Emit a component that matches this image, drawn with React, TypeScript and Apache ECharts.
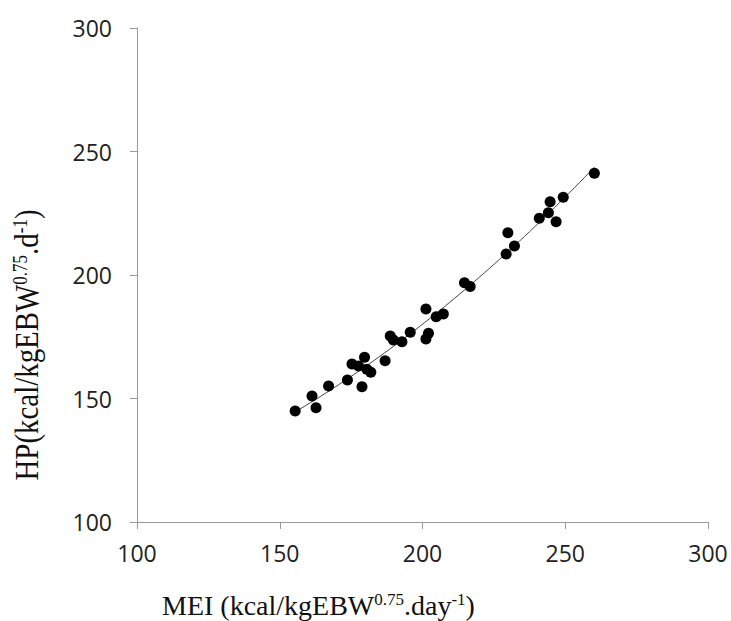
import React, { useEffect, useRef } from "react";
import * as echarts from "echarts";

// MEI (x) values
const meiValues = [
  155.4, 161.3, 162.7, 167.1, 173.7, 178.8, 175.3, 177.6, 179.7, 180.5, 181.9,
  186.9, 188.7, 189.8, 192.8, 195.7, 201.2, 201.2, 202.1, 204.8, 207.3, 214.7,
  216.7, 229.3, 229.9, 232.2, 240.9, 244.1, 244.7, 246.8, 249.3, 260.2,
];
// HP (y) values
const hpValues = [
  144.9, 151.0, 146.3, 155.1, 157.5, 154.8, 164.0, 163.2, 166.7, 161.8, 160.6,
  165.3, 175.3, 173.7, 173.0, 176.8, 186.2, 174.1, 176.4, 183.1, 184.2, 196.9,
  195.3, 208.5, 217.1, 211.7, 223.0, 225.2, 229.7, 221.6, 231.5, 241.2,
];

const axisMin = 100;
const axisMax = 300;
const axisStep = 50;

const xTitle = "MEI (kcal/kgEBW{sup|0.75}.day{sup|-1})";
const yTitle = "HP(kcal/kgEBW{sup|0.75}.d{sup|-1})";

// quadratic least-squares trendline from the data
function quadFit(xs: number[], ys: number[]) {
  const n = xs.length;
  const mx = xs.reduce((a, b) => a + b, 0) / n;
  const s = [0, 0, 0, 0, 0];
  const t = [0, 0, 0];
  for (let i = 0; i < n; i++) {
    const u = xs[i] - mx;
    s[0] += 1;
    s[1] += u;
    s[2] += u * u;
    s[3] += u * u * u;
    s[4] += u * u * u * u;
    t[0] += ys[i];
    t[1] += ys[i] * u;
    t[2] += ys[i] * u * u;
  }
  const A = [
    [s[0], s[1], s[2], t[0]],
    [s[1], s[2], s[3], t[1]],
    [s[2], s[3], s[4], t[2]],
  ];
  for (let c = 0; c < 3; c++) {
    for (let r = c + 1; r < 3; r++) {
      const f = A[r][c] / A[c][c];
      for (let k = c; k < 4; k++) A[r][k] -= f * A[c][k];
    }
  }
  const coef = [0, 0, 0];
  for (let r = 2; r >= 0; r--) {
    let v = A[r][3];
    for (let k = r + 1; k < 3; k++) v -= A[r][k] * coef[k];
    coef[r] = v / A[r][r];
  }
  return (x: number) => {
    const u = x - mx;
    return coef[0] + coef[1] * u + coef[2] * u * u;
  };
}

export default function App() {
  const ref = useRef<HTMLDivElement>(null);
  useEffect(() => {
    document.body.style.margin = "0";
    if (!ref.current) return;
    const chart = echarts.init(ref.current, null, { renderer: "svg" });
    const f = quadFit(meiValues, hpValues);
    const lo = Math.min(...meiValues);
    const hi = Math.max(...meiValues);
    const trend: number[][] = [];
    const steps = 60;
    for (let i = 0; i <= steps; i++) {
      const x = lo + ((hi - lo) * i) / steps;
      trend.push([x, f(x)]);
    }
    const axisCommon = {
      type: "value" as const,
      min: axisMin,
      max: axisMax,
      interval: axisStep,
      splitLine: { show: false },
      axisLine: { show: true, lineStyle: { color: "#9a9a9a", width: 1 } },
      axisTick: { show: true, length: 7, lineStyle: { color: "#9a9a9a" } },
      axisLabel: {
        color: "#222",
        fontSize: 23,
        fontFamily: "Open Sans",
      },
    };
    chart.setOption({
      animation: false,
      grid: { left: 137, right: 23, top: 28, bottom: 99, containLabel: false },
      xAxis: { ...axisCommon, axisLabel: { ...axisCommon.axisLabel, margin: 19 } },
      yAxis: { ...axisCommon, axisLabel: { ...axisCommon.axisLabel, margin: 25 } },
      graphic: [
        {
          type: "text",
          x: 162,
          y: 605,
          style: {
            text: xTitle,
            fontFamily: "Liberation Serif",
            fontSize: 28,
            fill: "#111",
            align: "left",
            verticalAlign: "middle",
            rich: {
              sup: {
                fontFamily: "Liberation Serif",
                fontSize: 17,
                verticalAlign: "top",
                fill: "#111",
              },
            },
          },
        },
        {
          type: "text",
          x: 27,
          y: 345,
          rotation: Math.PI / 2,
          scaleX: 0.85,
          style: {
            text: yTitle,
            fontFamily: "Liberation Serif",
            fontSize: 34,
            fill: "#111",
            align: "center",
            verticalAlign: "middle",
            rich: {
              sup: {
                fontFamily: "Liberation Serif",
                fontSize: 20,
                verticalAlign: "top",
                fill: "#111",
              },
            },
          },
        },
      ],
      series: [
        {
          type: "line",
          data: trend,
          showSymbol: false,
          symbol: "none",
          lineStyle: { color: "#444", width: 1 },
          z: 1,
        },
        {
          type: "scatter",
          data: meiValues.map((x, i) => [x, hpValues[i]]),
          symbol: "circle",
          symbolSize: 11,
          itemStyle: { color: "#000", opacity: 1 },
          z: 2,
        },
      ],
    });
    return () => chart.dispose();
  }, []);
  return <div ref={ref} style={{ width: 731, height: 621 }} />;
}
